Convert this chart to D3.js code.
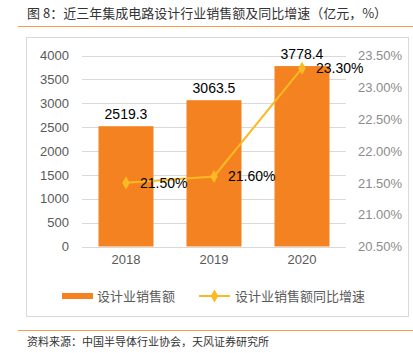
<!DOCTYPE html>
<html>
<head>
<meta charset="utf-8">
<script src="https://cdn.jsdelivr.net/npm/d3@7"></script>
<style>
body { margin: 0; background: #fff; }
svg { display: block; font-family: "Noto Sans CJK SC", "Liberation Sans", sans-serif; }
</style>
</head>
<body>
<svg id="chart"></svg>
<script>
var WIDTH = 413;
var HEIGHT = 353;

var years = ['2018', '2019', '2020'];
var sales = [2519.3, 3063.5, 3778.4];
var growth = [21.5, 21.6, 23.3];
var leftTicks = [0, 500, 1000, 1500, 2000, 2500, 3000, 3500, 4000];
var rightTicks = [20.5, 21.0, 21.5, 22.0, 22.5, 23.0, 23.5];

var BAR = '#F58220';
var LINE = '#FBBA22';

var svg = d3.select('#chart')
    .attr('width', WIDTH)
    .attr('height', HEIGHT);

// title + rules
svg.append('text')
    .attr('x', 27).attr('y', 18)
    .attr('font-size', 13).attr('fill', '#333')
    .text('图 8：近三年集成电路设计行业销售额及同比增速（亿元，%）');
svg.append('line')
    .attr('x1', 18).attr('x2', WIDTH).attr('y1', 26.5).attr('y2', 26.5)
    .attr('stroke', '#F0A050').attr('stroke-width', 1);
svg.append('rect')
    .attr('x', 26.5).attr('y', 37.5).attr('width', 382).attr('height', 279)
    .attr('fill', 'none').attr('stroke', '#d9d9d9');
svg.append('line')
    .attr('x1', 18).attr('x2', WIDTH).attr('y1', 330.5).attr('y2', 330.5)
    .attr('stroke', '#F0A050').attr('stroke-width', 1);
svg.append('text')
    .attr('x', 27).attr('y', 346)
    .attr('font-size', 11).attr('fill', '#333')
    .text('资料来源：中国半导体行业协会，天风证券研究所');

var xScale = d3.scaleBand().domain(years).range([82, 346]).paddingInner(0.375).paddingOuter(0.1875);
var yScale = d3.scaleLinear().domain([0, 4000]).range([246.5, 55.5]);
var y2Scale = d3.scaleLinear().domain([20.5, 23.5]).range([246.5, 55.5]);

// gridlines
svg.append('g').selectAll('line')
    .data(leftTicks)
    .enter().append('line')
    .attr('x1', 82).attr('x2', 346)
    .attr('y1', function(d){ return Math.round(yScale(d)) + 0.5; })
    .attr('y2', function(d){ return Math.round(yScale(d)) + 0.5; })
    .attr('stroke', '#d9d9d9');

var leftAxis = d3.axisLeft(yScale).tickValues(leftTicks).tickSize(0).tickPadding(0)
    .tickFormat(d3.format('d'));
svg.append('g').attr('id', 'left-axis')
    .attr('transform', 'translate(69,0)')
    .call(leftAxis)
    .call(function(g){ g.select('.domain').remove(); })
    .selectAll('text').attr('font-size', 13).attr('fill', '#595959')
    .attr('font-family', '"Liberation Sans", sans-serif');

var rightAxis = d3.axisRight(y2Scale).tickValues(rightTicks).tickSize(0).tickPadding(0)
    .tickFormat(function(d){ return d.toFixed(2) + '%'; });
svg.append('g').attr('id', 'right-axis')
    .attr('transform', 'translate(358,0)')
    .call(rightAxis)
    .call(function(g){ g.select('.domain').remove(); })
    .selectAll('text').attr('font-size', 13).attr('fill', '#8c8c8c')
    .attr('font-family', '"Liberation Sans", sans-serif');

var bottomAxis = d3.axisBottom(xScale).tickSize(0).tickPadding(0);
svg.append('g').attr('id', 'bottom-axis')
    .attr('transform', 'translate(0,252)')
    .call(bottomAxis)
    .call(function(g){ g.select('.domain').remove(); })
    .selectAll('text').attr('font-size', 13).attr('fill', '#595959')
    .attr('dy', '0.9em')
    .attr('font-family', '"Liberation Sans", sans-serif');

// bars
svg.append('g').selectAll('rect')
    .data(sales)
    .enter().append('rect')
    .attr('x', function(d, i){ return xScale(years[i]); })
    .attr('y', function(d){ return yScale(d); })
    .attr('width', xScale.bandwidth())
    .attr('height', function(d){ return yScale(0) - yScale(d); })
    .attr('fill', BAR);

svg.append('g').selectAll('text')
    .data(sales)
    .enter().append('text')
    .attr('x', function(d, i){ return xScale(years[i]) + xScale.bandwidth() / 2; })
    .attr('y', function(d){ return yScale(d) - 7; })
    .attr('text-anchor', 'middle')
    .attr('font-size', 14).attr('fill', '#000')
    .attr('font-family', '"Liberation Sans", sans-serif')
    .text(function(d){ return d.toFixed(1); });

// line
var cx = function(d, i){ return xScale(years[i]) + xScale.bandwidth() / 2; };
var line = d3.line().x(cx).y(function(d){ return y2Scale(d); });
svg.append('path')
    .datum(growth)
    .attr('d', line)
    .attr('fill', 'none').attr('stroke', LINE).attr('stroke-width', 2);

var diamond = d3.symbol().type(d3.symbolDiamond).size(50);
svg.append('g').selectAll('path')
    .data(growth)
    .enter().append('path')
    .attr('d', diamond)
    .attr('transform', function(d, i){ return 'translate(' + cx(d, i) + ',' + y2Scale(d) + ')'; })
    .attr('fill', LINE);

svg.append('g').selectAll('text')
    .data(growth)
    .enter().append('text')
    .attr('x', function(d, i){ return cx(d, i) + 14; })
    .attr('y', function(d){ return y2Scale(d) + 5; })
    .attr('font-size', 14).attr('fill', '#000')
    .attr('font-family', '"Liberation Sans", sans-serif')
    .text(function(d){ return d.toFixed(2) + '%'; });

// legend
var legend = svg.append('g').attr('transform', 'translate(0,296)');
legend.append('rect')
    .attr('x', 62).attr('y', -3).attr('width', 31).attr('height', 6)
    .attr('fill', BAR);
legend.append('text')
    .attr('x', 97).attr('y', 5)
    .attr('font-size', 13).attr('fill', '#595959')
    .text('设计业销售额');
legend.append('line')
    .attr('x1', 199).attr('x2', 230).attr('y1', 0).attr('y2', 0)
    .attr('stroke', LINE).attr('stroke-width', 2);
legend.append('path')
    .attr('d', diamond)
    .attr('transform', 'translate(214.5,0)')
    .attr('fill', LINE);
legend.append('text')
    .attr('x', 235).attr('y', 5)
    .attr('font-size', 13).attr('fill', '#595959')
    .text('设计业销售额同比增速');
</script>
</body>
</html>
